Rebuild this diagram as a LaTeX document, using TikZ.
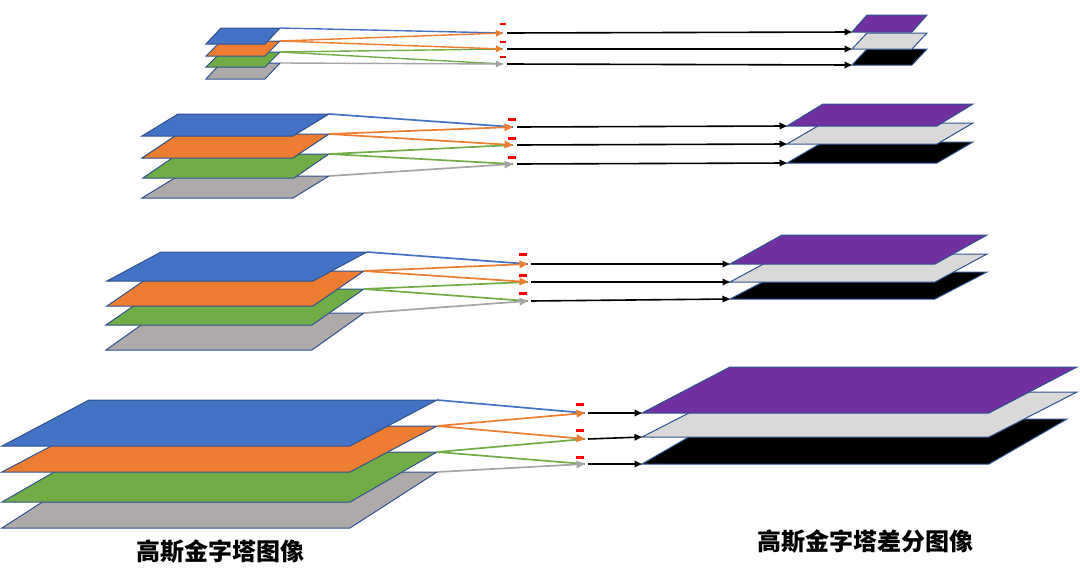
\documentclass[tikz,border=0pt]{standalone}
\usepackage{fontspec}
\newfontfamily\cjk{Noto Sans CJK SC}
\usetikzlibrary{calc,arrows.meta}
\definecolor{cblue}{HTML}{4472C4}
\definecolor{corange}{HTML}{ED7D31}
\definecolor{cgreen}{HTML}{70AD47}
\definecolor{cgray}{HTML}{AEAAAA}
\definecolor{cline}{HTML}{A5A5A5}
\definecolor{cpurple}{HTML}{7030A0}
\definecolor{clight}{HTML}{D9D9D9}
\definecolor{cedge}{HTML}{2F528F}
\definecolor{cminus}{HTML}{FF0000}
% #1 name, #2 fill, #3 TRx, #4 TRy, #5 BRx, #6 BRy, #7 width
\newcommand\pyrlayer[7]{%
  \coordinate (#1-tr) at (#3,#4);
  \coordinate (#1-br) at (#5,#6);
  \coordinate (#1-tl) at ($(#1-tr)+(-#7,0)$);
  \coordinate (#1-bl) at ($(#1-br)+(-#7,0)$);
  \draw[sheet,fill=#2] (#1-tl) -- (#1-tr) -- (#1-br) -- (#1-bl) -- cycle;
}
\begin{document}
\begin{tikzpicture}[x=1pt,y=-1pt,
  sheet/.style={draw=cedge,line width=1pt,line join=miter},
  conn/.style={line width=1.7pt},
  headc/.style={-{Triangle[length=8.5pt,width=7.5pt]}},
  headb/.style={line width=1.6pt,black,-{Triangle[length=7.5pt,width=6.5pt]}},
  minus/.style={fill=cminus,draw=none,minimum width=7.5pt,minimum height=3pt,inner sep=0pt},
  captext/.style={font=\cjk\bfseries\fontsize{24}{28}\selectfont,inner sep=0pt}]
\useasboundingbox (0,0) rectangle (1080,581);

% ---------------- Row 1 ----------------
\pyrlayer{a4}{cgray}{280}{63}{265}{79}{59}
\pyrlayer{a3}{cgreen}{280}{52}{265}{67}{59}
\pyrlayer{a2}{corange}{280}{41}{265}{56}{59}
\pyrlayer{a1}{cblue}{280}{28}{265}{44}{59}
\pyrlayer{p3}{black}{927}{49}{912}{65}{60}
\pyrlayer{p2}{clight}{927}{33}{912}{49}{60}
\pyrlayer{p1}{cpurple}{927}{15}{912}{32}{60}
\coordinate (at1) at (503,33);
\coordinate (at2) at (503,49);
\coordinate (at3) at (503,64);
\coordinate (as1) at (507,33);
\coordinate (as2) at (507,49);
\coordinate (as3) at (507,64);
\draw[conn,line width=1.4pt,cblue] (a1-tr) -- (at1);
\draw[conn,line width=1.4pt,cgreen] (a3-tr) -- (at2);
\draw[conn,line width=1.4pt,cgreen] (a3-tr) -- (at3);
\draw[conn,line width=1.4pt,corange,-{Triangle[length=7pt,width=6.5pt]}] (a2-tr) -- (at1);
\draw[conn,line width=1.4pt,corange,-{Triangle[length=7pt,width=6.5pt]}] (a2-tr) -- (at2);
\draw[conn,line width=1.4pt,cline,-{Triangle[length=7pt,width=6.5pt]}] (a4-tr) -- (at3);
\draw[headb] (as1) -- (p1-bl);
\draw[headb] (as2) -- (p2-bl);
\draw[headb] (as3) -- (p3-bl);
\node[minus,minimum width=6.5pt,minimum height=2.7pt] (am1) at (503,24) {};
\node[minus,minimum width=6.5pt,minimum height=2.7pt] (am2) at (503,42) {};
\node[minus,minimum width=6.5pt,minimum height=2.7pt] (am3) at (503,57) {};

% ---------------- Row 2 ----------------
\pyrlayer{b4}{cgray}{329}{176}{293}{198}{151}
\pyrlayer{b3}{cgreen}{329}{154}{294}{178}{151}
\pyrlayer{b2}{corange}{329}{134}{293}{158}{151}
\pyrlayer{b1}{cblue}{329}{114}{293}{136}{151}
\pyrlayer{q3}{black}{973}{142}{937}{163}{150}
\pyrlayer{q2}{clight}{973}{123}{937}{144}{150}
\pyrlayer{q1}{cpurple}{973}{104}{937}{126}{150}
\coordinate (bt1) at (513,127);
\coordinate (bt2) at (513,145);
\coordinate (bt3) at (513,164);
\coordinate (bs1) at (517,127);
\coordinate (bs2) at (517,145);
\coordinate (bs3) at (517,164);
\draw[conn,cblue] (b1-tr) -- (bt1);
\draw[conn,cgreen] (b3-tr) -- (bt2);
\draw[conn,cgreen] (b3-tr) -- (bt3);
\draw[conn,corange,headc] (b2-tr) -- (bt1);
\draw[conn,corange,headc] (b2-tr) -- (bt2);
\draw[conn,cline,headc] (b4-tr) -- (bt3);
\draw[headb] (bs1) -- (q1-bl);
\draw[headb] (bs2) -- (q2-bl);
\draw[headb] (bs3) -- (q3-bl);
\node[minus] (bm1) at (512,119) {};
\node[minus] (bm2) at (512,138) {};
\node[minus] (bm3) at (512,157) {};

% ---------------- Row 3 ----------------
\pyrlayer{c4}{cgray}{364}{313}{312}{350}{206}
\pyrlayer{c3}{cgreen}{364}{289}{312}{325}{206}
\pyrlayer{c2}{corange}{364}{271}{313}{306}{206}
\pyrlayer{c1}{cblue}{367}{252}{313}{281}{206}
\pyrlayer{r3}{black}{987}{272}{935}{299}{205}
\pyrlayer{r2}{clight}{987}{254}{935}{282}{205}
\pyrlayer{r1}{cpurple}{987}{235}{935}{264}{205}
\coordinate (ct1) at (528,264);
\coordinate (ct2) at (528,282);
\coordinate (ct3) at (528,301);
\coordinate (cs1) at (531,264);
\coordinate (cs2) at (531,282);
\coordinate (cs3) at (531,301);
\draw[conn,cblue] (c1-tr) -- (ct1);
\draw[conn,cgreen] (c3-tr) -- (ct2);
\draw[conn,cgreen] (c3-tr) -- (ct3);
\draw[conn,corange,headc] (c2-tr) -- (ct1);
\draw[conn,corange,headc] (c2-tr) -- (ct2);
\draw[conn,cline,headc] (c4-tr) -- (ct3);
\draw[headb] (cs1) -- (r1-bl);
\draw[headb] (cs2) -- (r2-bl);
\draw[headb] (cs3) -- (r3-bl);
\node[minus] (cm1) at (523,254) {};
\node[minus] (cm2) at (523,275) {};
\node[minus] (cm3) at (523,293) {};

% ---------------- Row 4 ----------------
\pyrlayer{d4}{cgray}{437}{472}{350}{528}{348}
\pyrlayer{d3}{cgreen}{437}{452}{350}{502}{348}
\pyrlayer{d2}{corange}{437}{426}{350}{472}{348}
\pyrlayer{d1}{cblue}{437}{400}{350}{446}{348}
\pyrlayer{s3}{black}{1067}{419}{989}{464}{347}
\pyrlayer{s2}{clight}{1077}{392}{989}{437}{347}
\pyrlayer{s1}{cpurple}{1077}{367}{989}{413}{347}
\coordinate (dt1) at (585,413);
\coordinate (dt2) at (585,439);
\coordinate (dt3) at (585,464);
\coordinate (ds1) at (588,413);
\coordinate (ds2) at (588,439);
\coordinate (ds3) at (588,464);
\draw[conn,cblue] (d1-tr) -- (dt1);
\draw[conn,cgreen] (d3-tr) -- (dt2);
\draw[conn,cgreen] (d3-tr) -- (dt3);
\draw[conn,corange,headc] (d2-tr) -- (dt1);
\draw[conn,corange,headc] (d2-tr) -- (dt2);
\draw[conn,cline,headc] (d4-tr) -- (dt3);
\draw[headb] (ds1) -- (s1-bl);
\draw[headb] (ds2) -- (s2-bl);
\draw[headb] (ds3) -- (s3-bl);
\node[minus] (dm1) at (580,404) {};
\node[minus] (dm2) at (580,430) {};
\node[minus] (dm3) at (580,457) {};

% ---------------- Captions ----------------
\node[captext] (capl) at (220,552) {高斯金字塔图像};
\node[captext] (capr) at (865,542) {高斯金字塔差分图像};
\end{tikzpicture}
\end{document}
